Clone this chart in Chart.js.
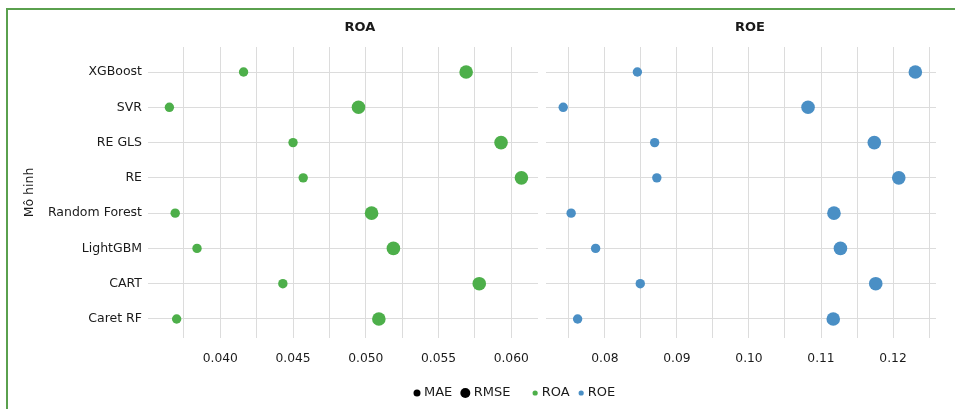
<!DOCTYPE html>
<html>
<head>
<meta charset="utf-8">
<script src="https://cdn.jsdelivr.net/npm/chart.js@4.4.1/dist/chart.umd.min.js"></script>
<style>
  html, body { margin: 0; padding: 0; background: #ffffff; }
  #wrap { position: relative; width: 955px; height: 409px; }
  canvas { display: block; }
</style>
</head>
<body>
<div id="wrap"><canvas id="chart" width="955" height="409"></canvas></div>
<script>
// Models compared (top to bottom)
const models = ['XGBoost', 'SVR', 'RE GLS', 'RE', 'Random Forest', 'LightGBM', 'CART', 'Caret RF'];

// Error metrics per model
const roaMAE  = [0.0416, 0.0365, 0.0450, 0.0457, 0.0369, 0.0384, 0.0443, 0.0370];
const roaRMSE = [0.0569, 0.0495, 0.0593, 0.0607, 0.0504, 0.0519, 0.0578, 0.0509];
const roeMAE  = [0.0845, 0.0742, 0.0869, 0.0872, 0.0753, 0.0787, 0.0849, 0.0762];
const roeRMSE = [0.1231, 0.1082, 0.1174, 0.1208, 0.1118, 0.1127, 0.1176, 0.1117];

// Grid positions and labelled ticks for each facet
const roaGrid = [0.0375, 0.040, 0.0425, 0.045, 0.0475, 0.050, 0.0525, 0.055, 0.0575, 0.060];
const roaTickLabels = ['0.040', '0.045', '0.050', '0.055', '0.060'];
const roeGrid = [0.075, 0.080, 0.085, 0.090, 0.095, 0.100, 0.105, 0.110, 0.115, 0.120, 0.125];
const roeTickLabels = ['0.08', '0.09', '0.10', '0.11', '0.12'];

const facetTitles = ['ROA', 'ROE'];
const yTitle = 'Mô hinh';

const GREEN = '#4daf4a';
const BLUE = '#4a8fc5';
const GRID = '#dcdcdc';
const TEXT = '#1a1a1a';
const FONT = 'DejaVu Sans';

const R_MAE = 4.7, R_RMSE = 6.8;

function pts(values) {
  return values.map((v, i) => ({ x: v, y: i }));
}

function tickLabel(labels) {
  return function (value) {
    const hit = labels.find(l => Math.abs(parseFloat(l) - value) < 1e-9);
    return hit === undefined ? '' : hit;
  };
}

function xScale(min, max, grid, labels) {
  return {
    type: 'linear',
    position: 'bottom',
    stack: 'facets',
    stackWeight: 390,
    min: min,
    max: max,
    afterBuildTicks: s => { s.ticks = grid.map(v => ({ value: v })); },
    afterFit: s => { s.height = 71; },
    ticks: {
      autoSkip: false,
      maxRotation: 0,
      padding: 13,
      color: TEXT,
      font: { family: FONT, size: 12.3 },
      callback: tickLabel(labels)
    },
    grid: { color: GRID, lineWidth: 1, drawTicks: false },
    border: { display: false }
  };
}

// Draws the outer frame, facet strip titles, panel gap and the legend
const facetDecor = {
  id: 'facetDecor',
  beforeDraw(chart) {
    const ctx = chart.ctx;
    ctx.save();
    ctx.strokeStyle = '#5aa04e';
    ctx.lineWidth = 2;
    ctx.strokeRect(7, 9, 2000, 2000);
    ctx.restore();
  },
  beforeDatasetsDraw(chart) {
    const ctx = chart.ctx;
    const a = chart.chartArea;
    const left = chart.scales.xRoa, right = chart.scales.xRoe;
    ctx.save();
    ctx.fillStyle = '#ffffff';
    ctx.fillRect(left.right, a.top - 1, right.left - left.right, a.bottom - a.top + 2);
    ctx.fillStyle = TEXT;
    ctx.font = 'bold 13px "' + FONT + '"';
    ctx.textAlign = 'center';
    ctx.textBaseline = 'middle';
    ctx.fillText(facetTitles[0], (left.left + left.right) / 2 + 17, 28);
    ctx.fillText(facetTitles[1], (right.left + right.right) / 2 + 9, 28);
    ctx.restore();
  },
  afterDraw(chart) {
    const ctx = chart.ctx;
    const items = [
      { text: 'MAE', r: 3.5, color: '#000000', gap: 0 },
      { text: 'RMSE', r: 5, color: '#000000', gap: 8 },
      { text: facetTitles[0], r: 2.6, color: GREEN, gap: 22 },
      { text: facetTitles[1], r: 2.6, color: BLUE, gap: 9 }
    ];
    const y = 393;
    let x = chart.chartArea.left + 265.5;
    ctx.save();
    ctx.font = '13px "' + FONT + '"';
    ctx.textBaseline = 'middle';
    ctx.textAlign = 'left';
    items.forEach(it => {
      x += it.gap;
      const cx = x + it.r;
      ctx.beginPath();
      ctx.arc(cx, y, it.r, 0, Math.PI * 2);
      ctx.fillStyle = it.color;
      ctx.fill();
      const tx = cx + Math.max(it.r, 3) + 3.5;
      ctx.fillStyle = TEXT;
      ctx.fillText(it.text, tx, y);
      x = tx + ctx.measureText(it.text).width;
    });
    ctx.restore();
  }
};

const pointStyle = (color, r) => ({
  backgroundColor: color,
  borderWidth: 0,
  pointRadius: r,
  pointHoverRadius: r,
  pointBorderWidth: 0
});

new Chart(document.getElementById('chart'), {
  type: 'scatter',
  data: {
    datasets: [
      Object.assign({ label: 'ROA MAE', xAxisID: 'xRoa', data: pts(roaMAE) }, pointStyle(GREEN, R_MAE)),
      Object.assign({ label: 'ROA RMSE', xAxisID: 'xRoa', data: pts(roaRMSE) }, pointStyle(GREEN, R_RMSE)),
      Object.assign({ label: 'ROE MAE', xAxisID: 'xRoe', data: pts(roeMAE) }, pointStyle(BLUE, R_MAE)),
      Object.assign({ label: 'ROE RMSE', xAxisID: 'xRoe', data: pts(roeRMSE) }, pointStyle(BLUE, R_RMSE))
    ]
  },
  options: {
    responsive: false,
    animation: false,
    devicePixelRatio: 1,
    layout: { padding: { top: 47, right: 19, bottom: 0, left: 0 } },
    plugins: {
      legend: { display: false },
      tooltip: { enabled: false }
    },
    scales: {
      y: {
        type: 'linear',
        reverse: true,
        min: -0.71,
        max: 7.54,
        afterBuildTicks: s => { s.ticks = models.map((_, i) => ({ value: i })); },
        afterFit: s => { s.width = 148; },
        ticks: {
          autoSkip: false,
          padding: 6,
          color: TEXT,
          font: { family: FONT, size: 12.5 },
          callback: v => models[v]
        },
        grid: { color: GRID, lineWidth: 1, drawTicks: false },
        border: { display: false },
        title: {
          display: true,
          text: yTitle,
          color: TEXT,
          font: { family: FONT, size: 12.5 },
          padding: { top: 22, bottom: 0 }
        }
      },
      xRoa: xScale(0.03503, 0.06184, roaGrid, roaTickLabels),
      xGap: {
        type: 'linear',
        position: 'bottom',
        stack: 'facets',
        stackWeight: 8,
        min: 0,
        max: 1,
        afterFit: s => { s.height = 71; },
        ticks: { display: false },
        grid: { display: false },
        border: { display: false }
      },
      xRoe: xScale(0.07181, 0.12597, roeGrid, roeTickLabels)
    }
  },
  plugins: [facetDecor]
});
</script>
</body>
</html>
